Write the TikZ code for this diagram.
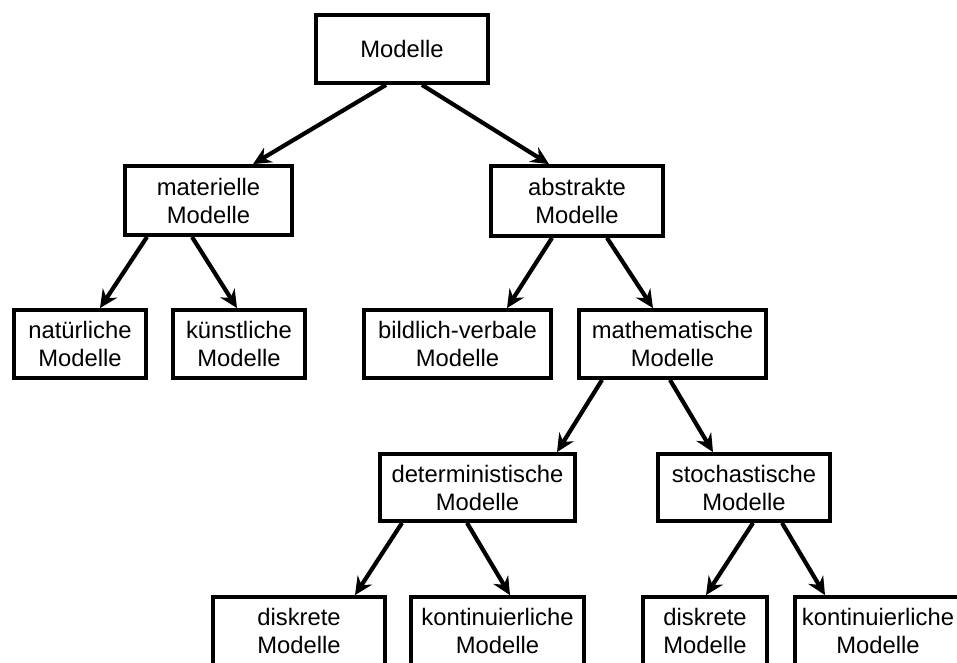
\documentclass[tikz,border=0pt]{standalone}
\usepackage{fontspec}
\setmainfont{Liberation Sans}
\usetikzlibrary{arrows.meta}
\begin{document}
\begin{tikzpicture}[x=1pt,y=-1pt,
  box/.style={draw, line width=3.8pt, rectangle, inner sep=0pt,
    minimum height=68pt, align=center,
    font=\fontsize{23.8}{28}\selectfont},
  arr/.style={line width=4.2pt, -{Stealth[length=18pt,width=17pt,inset=6pt]}}]
\useasboundingbox (0,0) rectangle (957,662);
\clip (0,0) rectangle (957,662);

% level 0
\node[box, minimum width=172pt] (root) at (402,49) {Modelle};
% level 1
\node[box, minimum width=167pt, minimum height=69pt] (mat) at (208.5,200.5) {materielle\\Modelle};
\node[box, minimum width=172pt, minimum height=70pt] (abs) at (577,201) {abstrakte\\Modelle};
% level 2
\node[box, minimum width=132pt] (nat) at (80,344) {natürliche\\Modelle};
\node[box, minimum width=132pt] (kue) at (239,344) {künstliche\\Modelle};
\node[box, minimum width=187pt] (bild) at (457.5,344) {bildlich-verbale\\Modelle};
\node[box, minimum width=187pt] (math) at (672.5,344) {mathematische\\Modelle};
% level 3
\node[box, minimum width=195pt, minimum height=67pt] (det) at (477.5,487.5) {deterministische\\Modelle};
\node[box, minimum width=172pt, minimum height=67pt] (sto) at (744,487.5) {stochastische\\Modelle};
% level 4
\node[box, minimum width=172pt] (dd) at (299,631) {diskrete\\Modelle};
\node[box, minimum width=173pt] (dk) at (497.5,631) {kontinuierliche\\Modelle};
\node[box, minimum width=124pt] (sd) at (705,631) {diskrete\\Modelle};
\node[box, minimum width=166pt] (sk) at (878,631) {kontinuierliche\\Modelle};

% connectors
\draw[arr] ([xshift=-16pt]root.south) -- ([xshift=44.5pt]mat.north);
\draw[arr] ([xshift=20pt]root.south) -- ([xshift=-28pt]abs.north);
\draw[arr] ([xshift=-61.5pt]mat.south) -- ([xshift=20pt]nat.north);
\draw[arr] ([xshift=-16.5pt]mat.south) -- ([xshift=-2pt]kue.north);
\draw[arr] ([xshift=-25pt]abs.south) -- ([xshift=49.5pt]bild.north);
\draw[arr] ([xshift=30pt]abs.south) -- ([xshift=-19.5pt]math.north);
\draw[arr] ([xshift=-70.5pt]math.south) -- ([xshift=79.5pt]det.north);
\draw[arr] ([xshift=-2.5pt]math.south) -- ([xshift=-31pt]sto.north);
\draw[arr] ([xshift=-75.5pt]det.south) -- ([xshift=56pt]dd.north);
\draw[arr] ([xshift=-10.5pt]det.south) -- ([xshift=12.5pt]dk.north);
\draw[arr] ([xshift=9pt]sto.south) -- ([xshift=1pt]sd.north);
\draw[arr] ([xshift=38pt]sto.south) -- ([xshift=-53pt]sk.north);
\end{tikzpicture}
\end{document}
